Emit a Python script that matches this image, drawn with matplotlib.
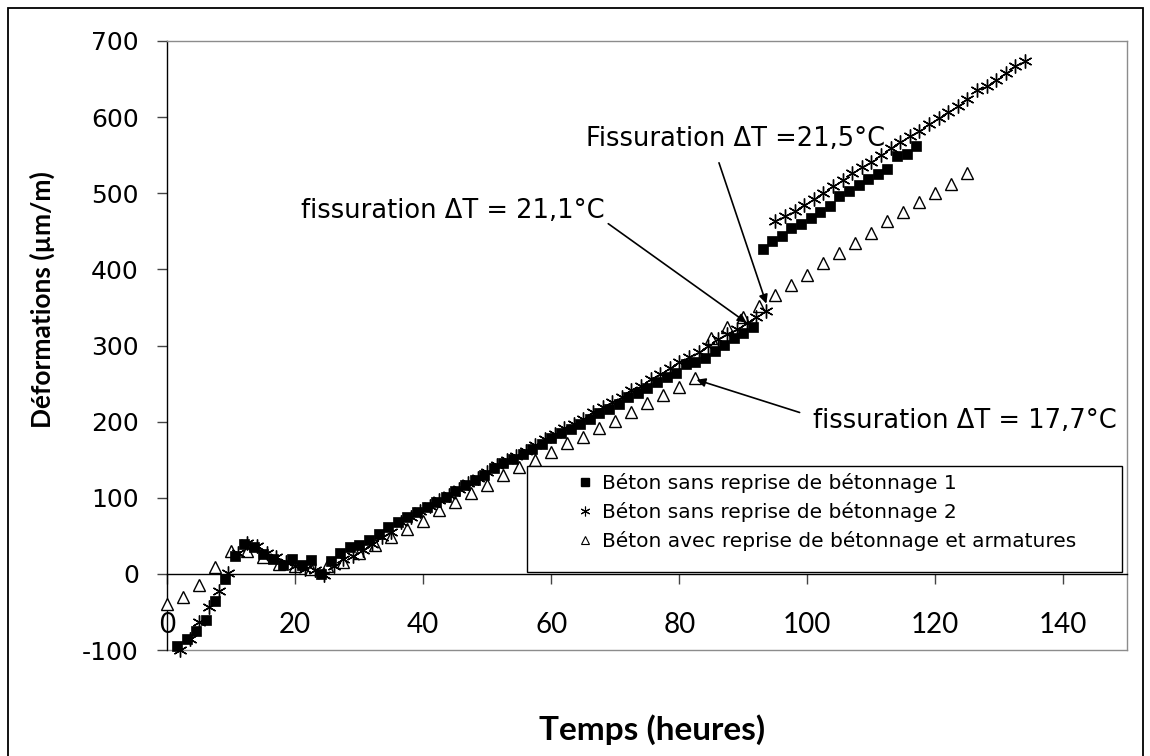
import matplotlib
matplotlib.use("Agg")
import matplotlib.pyplot as plt
from matplotlib.patches import Rectangle
from matplotlib.lines import Line2D

# --- Data -------------------------------------------------------------
# Béton sans reprise de bétonnage 1 (squares)
t1 = [1.5, 3, 4.5, 6, 7.5, 9, 10.5, 12, 13.5, 15, 16.5, 18, 19.5, 21, 22.5,
      24, 25.5, 27, 28.5, 30, 31.5, 33, 34.5, 36, 37.5, 39, 40.5, 42, 43.5,
      45, 46.5, 48, 49.5, 51, 52.5, 54, 55.5, 57, 58.5, 60, 61.5, 63, 64.5,
      66, 67.5, 69, 70.5, 72, 73.5, 75, 76.5, 78, 79.5, 81, 82.5, 84, 85.5,
      87, 88.5, 90, 91.5, 93, 94.5, 96, 97.5, 99, 100.5, 102, 103.5, 105,
      106.5, 108, 109.5, 111, 112.5, 114, 115.5, 117]
d1 = [-95, -85, -75, -60, -36, -7, 23, 39, 35, 26, 19, 12, 19, 12, 18,
      0, 17, 27, 35, 38, 45, 53, 61, 68, 75, 81, 88, 95, 101,
      109, 117, 123, 130, 139, 145, 151, 157, 164, 171, 178, 185, 190, 197,
      203, 211, 217, 223, 233, 237, 244, 252, 259, 264, 276, 278, 283, 293,
      301, 310, 317, 324, 427, 437, 444, 454, 460, 468, 475, 483, 497,
      503, 511, 519, 525, 532, 549, 551, 562]

# Béton sans reprise de bétonnage 2 (asterisks)
t2 = [2, 3.5, 5, 6.5, 8, 9.5, 11, 12.5, 14, 15.5, 17, 18.5, 20, 21.5, 23,
      24.5, 26, 27.5, 29, 30.5, 32, 33.5, 35, 36.5, 38, 39.5, 41, 42.5, 44,
      45.5, 47, 48.5, 50, 51.5, 53, 54.5, 56, 57.5, 59, 60.5, 62, 63.5, 65,
      66.5, 68, 69.5, 71, 72.5, 74, 75.5, 77, 78.5, 80, 81.5, 83, 84.5, 86,
      87.5, 89, 90.5, 92, 93.5, 95, 96.5, 98, 99.5, 101, 102.5, 104, 105.5,
      107, 108.5, 110, 111.5, 113, 114.5, 116, 117.5, 119, 120.5, 122, 123.5,
      125, 126.5, 128, 129.5, 131, 132.5, 134]
d2 = [-100, -85, -63, -44, -22, 1, 27, 41, 36, 27, 22, 16, 11, 7, 5,
      -1, 10, 19, 23, 31, 39, 48, 55, 68, 75, 82, 89, 97, 104,
      112, 120, 126, 134, 143, 149, 155, 162, 169, 177, 184, 191, 197, 204,
      212, 219, 226, 233, 242, 247, 256, 263, 271, 278, 285, 292, 299, 308,
      315, 322, 329, 337, 345, 463, 470, 477, 485, 492, 500, 510, 517,
      526, 534, 541, 550, 560, 567, 575, 582, 591, 599, 607, 614,
      624, 635, 641, 649, 658, 667, 674]

# Béton avec reprise de bétonnage et armatures (triangles)
t3 = [0, 2.5, 5, 7.5, 10, 12.5, 15, 17.5, 20, 22.5, 25, 27.5, 30, 32.5, 35,
      37.5, 40, 42.5, 45, 47.5, 50, 52.5, 55, 57.5, 60, 62.5, 65, 67.5, 70,
      72.5, 75, 77.5, 80, 82.5, 85, 87.5, 90, 92.5, 95, 97.5, 100, 102.5,
      105, 107.5, 110, 112.5, 115, 117.5, 120, 122.5, 125]
d3 = [-40, -31, -14, 9, 30, 30, 22, 13, 10, 7, 10, 16, 27, 38, 48,
      59, 70, 84, 95, 106, 117, 130, 141, 150, 160, 172, 180, 191, 201,
      213, 225, 235, 246, 257, 310, 324, 338, 352, 366, 380, 393, 409,
      421, 435, 448, 463, 475, 488, 500, 512, 527]

labels = ["Béton sans reprise de bétonnage 1",
          "Béton sans reprise de bétonnage 2",
          "Béton avec reprise de bétonnage et armatures"]

x_ticks = [0, 20, 40, 60, 80, 100, 120, 140]
y_ticks = [-100, 0, 100, 200, 300, 400, 500, 600, 700]

# --- Figure -----------------------------------------------------------
W, H = 1150, 756
fig = plt.figure(figsize=(W / 100, H / 100), dpi=100)
fig.patch.set_facecolor("white")

# outer frame of the chart (open at the bottom edge)
fig.patches.append(Rectangle((8 / W, -0.02), (1143 - 8) / W, 1 - 8 / H + 0.02,
                             transform=fig.transFigure, fill=False,
                             edgecolor="black", lw=1.3))

AX_L, AX_T, AX_W, AX_H = 167.3, 41, 960, 609
ax = fig.add_axes([AX_L / W, 1 - (AX_T + AX_H) / H, AX_W / W, AX_H / H])
ax.set_xlim(0, 150)
ax.set_ylim(-100, 700)


def ax_frac(px, py):
    """pixel position of the figure -> axes fraction"""
    return (px - AX_L) / AX_W, (AX_T + AX_H - py) / AX_H


grey = "#8c8c8c"
ax.spines["left"].set_color("black")
ax.spines["bottom"].set_position(("data", 0))
ax.spines["bottom"].set_color("black")
ax.spines["top"].set_color(grey)
ax.spines["right"].set_color(grey)
for s in ax.spines.values():
    s.set_linewidth(1.0)
ax.axhline(-100, color=grey, lw=1.0, clip_on=False, zorder=1)

ax.set_xticks(x_ticks)
ax.set_yticks(y_ticks)
ax.set_xticklabels([str(v) for v in x_ticks], fontfamily="Lato", fontsize=20)
ax.set_yticklabels([str(v) for v in y_ticks], fontfamily="DejaVu Sans", fontsize=18)
ax.tick_params(axis="x", direction="out", length=7.5, width=1, pad=20, color="#444444")
ax.tick_params(axis="y", direction="out", length=7.5, width=1, pad=13, color="#444444")

ms_kw = dict(linestyle="none", clip_on=False, zorder=3)
ax.plot(t3, d3, marker="^", markersize=8, markerfacecolor="white",
        markeredgecolor="black", markeredgewidth=1.0, **ms_kw)
ax.plot(t2, d2, marker=(6, 2, 0), markersize=10, color="black",
        markeredgewidth=1.0, **ms_kw)
ax.plot(t1, d1, marker="s", markersize=7.2, color="black",
        markeredgewidth=0.5, **ms_kw)

# legend: box drawn as a rectangle, entries placed inside it
bx0, by0 = ax_frac(527, 572)
bx1, by1 = ax_frac(1122, 466)
ax.add_patch(Rectangle((bx0, by0), bx1 - bx0, by1 - by0, transform=ax.transAxes,
                       facecolor="white", edgecolor="black", lw=1.0, zorder=4))
handles = [
    Line2D([], [], linestyle="none", marker="s", markersize=6, color="black"),
    Line2D([], [], linestyle="none", marker=(6, 2, 0), markersize=7,
           color="black", markeredgewidth=0.8),
    Line2D([], [], linestyle="none", marker="^", markersize=6,
           markerfacecolor="white", markeredgecolor="black",
           markeredgewidth=0.8),
]
lx, ly = ax_frac(577, 473)
leg = ax.legend(handles, labels, loc="upper left", bbox_to_anchor=(lx, ly),
                prop={"family": "DejaVu Sans", "size": 14.5}, frameon=False,
                borderaxespad=0, borderpad=0, handlelength=0.8,
                handletextpad=0.45, labelspacing=0.45)
leg.set_zorder(5)

# annotations
arrow = dict(arrowstyle="-|>", color="black", lw=1.2, mutation_scale=13,
             shrinkA=0, shrinkB=0)
txt = dict(fontfamily="DejaVu Sans", fontsize=18.5, color="black")
ax.annotate("", xy=(90.5, 330), xytext=(68.9, 460), arrowprops=arrow)
ax.text(68.4, 477, "fissuration ΔT = 21,1°C", ha="right", va="center", **txt)
ax.annotate("", xy=(93.6, 355), xytext=(86.2, 540), arrowprops=arrow)
ax.text(112.1, 571, "Fissuration ΔT =21,5°C", ha="right", va="center", **txt)
ax.annotate("", xy=(82.7, 255), xytext=(98.8, 212), arrowprops=arrow)
ax.text(148.4, 201, "fissuration ΔT = 17,7°C", ha="right", va="center", **txt)

ax.set_xlabel("Temps (heures)", fontfamily="Lato", fontweight="bold", fontsize=24)
ax.set_ylabel("Déformations (µm/m)", fontfamily="Lato", fontweight="bold", fontsize=19)
ax.xaxis.set_label_coords(*ax_frac(652, 714))
ax.yaxis.set_label_coords(*ax_frac(55, 300))

fig.savefig("out.png", dpi=100, facecolor="white")
